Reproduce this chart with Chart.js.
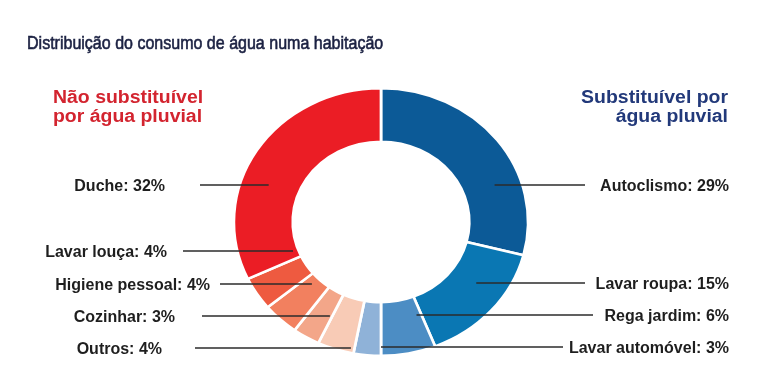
<!DOCTYPE html>
<html lang="pt">
<head>
    <meta charset="UTF-8">
    <title>Distribuição do consumo de água</title>
    <script src="https://cdn.jsdelivr.net/npm/chart.js"></script>
    <style>
        body { margin: 0; background: #fff; }
        #chart-box { width: 775px; height: 372px; }
    </style>
</head>
<body>
    <div id="chart-box">
        <canvas id="water-chart" width="775" height="372"></canvas>
    </div>

    <script>
        // data, clockwise from the top
        const categories = ['Autoclismo', 'Lavar roupa', 'Rega jardim', 'Lavar automóvel', 'Outros', 'Cozinhar', 'Higiene pessoal', 'Lavar louça', 'Duche'];
        const shares = [29, 15, 6, 3, 4, 3, 4, 4, 32];

        const title = 'Distribuição do consumo de água numa habitação';
        const groupLeft = ['Não substituível', 'por água pluvial'];
        const groupRight = ['Substituível por', 'água pluvial'];

        const sliceColors = ['#0c5a97', '#0a77b3', '#4c8dc4', '#8fb2d8', '#f8cbb6', '#f3a689', '#f2805f', '#ee5a40', '#eb1d25'];

        // where each callout sits (side, label y, outer end of the leader, text anchor, how deep into the ring the leader goes)
        const callouts = [
            { side: 1, y: 185, lineX: 585, textX: 729, depth: 0.55 },
            { side: 1, y: 283, lineX: 585, textX: 729, depth: 0.48 },
            { side: 1, y: 315, lineX: 593, textX: 729, depth: 0.34 },
            { side: 1, y: 347, lineX: 563, textX: 729, depth: 0.83 },
            { side: -1, y: 348, lineX: 195, textX: 162, depth: 0.91 },
            { side: -1, y: 316, lineX: 202, textX: 175, depth: 0.46 },
            { side: -1, y: 284, lineX: 220, textX: 210, depth: 0.15 },
            { side: -1, y: 251, lineX: 183, textX: 167, depth: 0.09 },
            { side: -1, y: 185, lineX: 200, textX: 165, depth: 0.53 }
        ];

        const stretchX = 1.1; // the ring in the picture is a little wider than tall

        function drawText(ctx, text, x, y, align, font, color, stretch = 1, weight = 0) {
            ctx.save();
            ctx.font = font;
            ctx.fillStyle = color;
            ctx.strokeStyle = color;
            ctx.textBaseline = 'alphabetic';
            ctx.textAlign = 'left';
            const w = ctx.measureText(text).width * stretch;
            const left = align === 'right' ? x - w : x;
            ctx.translate(left, y);
            ctx.scale(stretch, 1);
            ctx.fillText(text, 0, 0);
            if (weight > 0) {
                ctx.lineWidth = weight;
                ctx.strokeText(text, 0, 0);
            }
            ctx.restore();
        }

        const widenRing = {
            id: 'widenRing',
            beforeDatasetsDraw(chart) {
                const arc = chart.getDatasetMeta(0).data[0];
                const ctx = chart.ctx;
                ctx.save();
                ctx.translate(arc.x, arc.y);
                ctx.scale(stretchX, 1);
                ctx.translate(-arc.x, -arc.y);
            },
            afterDatasetsDraw(chart) {
                chart.ctx.restore();
            }
        };

        const annotations = {
            id: 'annotations',
            afterDraw(chart) {
                const ctx = chart.ctx;
                const arcs = chart.getDatasetMeta(0).data;

                drawText(ctx, title, 27, 49, 'left', '18px "Liberation Sans", Arial, sans-serif', '#1b2142', 0.89, 0.6);

                const headFont = 'bold 18px "Liberation Sans", Arial, sans-serif';
                drawText(ctx, groupLeft[0], 53, 103, 'left', headFont, '#d3242f', 1.08);
                drawText(ctx, groupLeft[1], 53, 122, 'left', headFont, '#d3242f', 1.08);
                drawText(ctx, groupRight[0], 728, 103, 'right', headFont, '#22397a', 1.08);
                drawText(ctx, groupRight[1], 728, 122, 'right', headFont, '#22397a', 1.08);

                const labelFont = 'bold 16px "Liberation Sans", Arial, sans-serif';
                callouts.forEach((c, i) => {
                    const arc = arcs[i];
                    const r = arc.innerRadius + c.depth * (arc.outerRadius - arc.innerRadius);
                    const dy = c.y - arc.y;
                    const innerX = arc.x + c.side * stretchX * Math.sqrt(Math.max(0, r * r - dy * dy));

                    ctx.save();
                    ctx.strokeStyle = '#2b2b2b';
                    ctx.lineWidth = 1.5;
                    ctx.beginPath();
                    ctx.moveTo(c.lineX, c.y);
                    ctx.lineTo(innerX, c.y);
                    ctx.stroke();
                    ctx.restore();

                    drawText(ctx, `${categories[i]}: ${shares[i]}%`, c.textX, c.y + 6, 'right', labelFont, '#1e1e1e');
                });
            }
        };

        new Chart(document.getElementById('water-chart'), {
            type: 'doughnut',
            data: {
                labels: categories,
                datasets: [{
                    data: shares,
                    backgroundColor: sliceColors,
                    borderColor: '#ffffff',
                    borderWidth: 2.5
                }]
            },
            options: {
                responsive: false,
                animation: false,
                devicePixelRatio: 1,
                cutout: '60%',
                layout: { padding: { left: 246, right: 259, top: 87, bottom: 15 } },
                plugins: {
                    legend: { display: false },
                    tooltip: { enabled: false }
                }
            },
            plugins: [widenRing, annotations]
        });
    </script>
</body>
</html>
